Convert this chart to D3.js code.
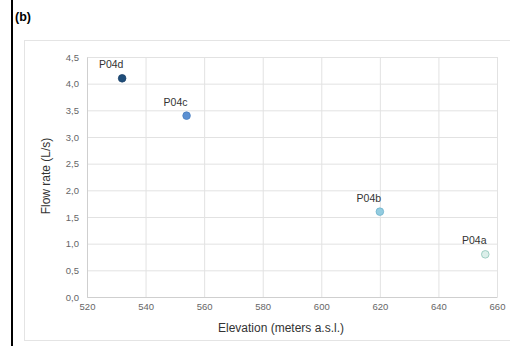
<!DOCTYPE html>
<html lang="en">
<head>
    <meta charset="UTF-8">
    <title>Flow rate vs elevation</title>
    <script src="https://d3js.org/d3.v7.min.js"></script>
    <style>
        body { margin: 0; background: #fff; }
        svg { display: block; font-family: "Liberation Sans", Arial, sans-serif; }
        .grid line { stroke: #e2e2e2; stroke-width: 1; }
        .tick text { fill: #666; font-size: 9.5px; }
    </style>
</head>
<body>
<svg width="510" height="347"></svg>
<script>
    // springs: label, elevation, flow rate
    const springs = ["P04d", "P04c", "P04b", "P04a"];
    const elevation = [532, 554, 620, 656];
    const flowRate = [4.1, 3.4, 1.6, 0.8];
    const fills = ["#1f4e7a", "#5b90d2", "#93cce0", "#dcefea"];
    const strokes = ["#1a4068", "#4a7fc0", "#6fb3cc", "#8cc4b8"];
    const xTicks = [520, 540, 560, 580, 600, 620, 640, 660];
    const yTicks = [0, 0.5, 1, 1.5, 2, 2.5, 3, 3.5, 4, 4.5];

    const svg = d3.select("svg");
    const fmt = v => d3.format(".1f")(v).replace(".", ",");

    // left frame bar + panel letter
    svg.append("rect").attr("x", 11).attr("y", 0).attr("width", 2).attr("height", 346).attr("fill", "#000");
    svg.append("text").attr("x", 15).attr("y", 21)
        .style("font-size", "12.5px").style("font-weight", "bold").text("(b)");

    // chart box
    svg.append("rect").attr("x", 24.5).attr("y", 40.5).attr("width", 500).attr("height", 300)
        .attr("fill", "#fff").attr("stroke", "#e4e4e4");

    const x = d3.scaleLinear().domain([520, 660]).range([87, 497]);
    const y = d3.scaleLinear().domain([0, 4.5]).range([297, 57]);

    // gridlines
    svg.append("g").attr("class", "grid")
        .selectAll("line").data(xTicks).join("line")
        .attr("x1", d => x(d) + 0.5).attr("x2", d => x(d) + 0.5)
        .attr("y1", y(4.5)).attr("y2", y(0));
    svg.append("g").attr("class", "grid")
        .selectAll("line").data(yTicks).join("line")
        .attr("x1", x(520)).attr("x2", x(660))
        .attr("y1", d => y(d) + 0.5).attr("y2", d => y(d) + 0.5);

    // axes
    const xAxis = svg.append("g").attr("transform", `translate(0,${y(0)})`)
        .call(d3.axisBottom(x).tickValues(xTicks).tickSize(0).tickPadding(6));
    xAxis.select(".domain").attr("stroke", "#cfcfcf");
    const yAxis = svg.append("g").attr("transform", `translate(${x(520)},0)`)
        .call(d3.axisLeft(y).tickValues(yTicks).tickFormat(fmt).tickSize(0).tickPadding(8));
    yAxis.select(".domain").attr("stroke", "#cfcfcf");

    svg.append("text").attr("x", 281).attr("y", 332).attr("text-anchor", "middle")
        .style("font-size", "12px").attr("fill", "#333").text("Elevation (meters a.s.l.)");
    svg.append("text").attr("transform", "translate(50,176) rotate(-90)").attr("text-anchor", "middle")
        .style("font-size", "12px").attr("fill", "#333").text("Flow rate (L/s)");

    // points
    const pts = springs.map((s, i) => ({ name: s, ele: elevation[i], q: flowRate[i], i: i }));
    svg.selectAll("circle.pt").data(pts).join("circle")
        .attr("class", "pt")
        .attr("cx", d => x(d.ele)).attr("cy", d => y(d.q)).attr("r", 3.8)
        .attr("fill", d => fills[d.i]).attr("stroke", d => strokes[d.i]).attr("stroke-width", 0.8);
    svg.selectAll("text.lbl").data(pts).join("text")
        .attr("class", "lbl")
        .attr("x", d => x(d.ele) - 11).attr("y", d => y(d.q) - 10)
        .attr("text-anchor", "middle")
        .style("font-size", "10.5px").attr("fill", "#333").text(d => d.name);
</script>
</body>
</html>
